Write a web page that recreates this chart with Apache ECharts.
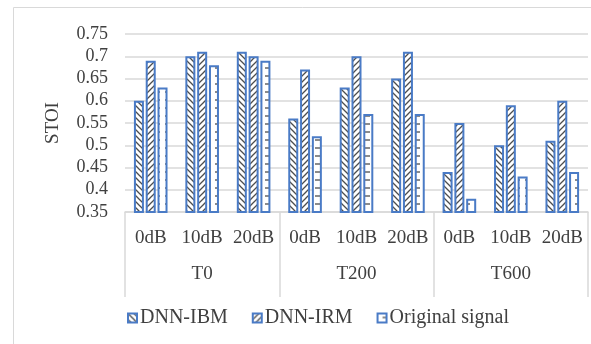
<!DOCTYPE html>
<html>
<head>
<meta charset="utf-8">
<script src="https://cdn.jsdelivr.net/npm/echarts@6/dist/echarts.min.js"></script>
<style>
  html, body { margin: 0; padding: 0; background: #fff; }
  #chart { width: 591px; height: 344px; }
</style>
</head>
<body>
<div id="chart"></div>
<script>
// data
const snrLabels = ['0dB', '10dB', '20dB', '0dB', '10dB', '20dB', '0dB', '10dB', '20dB'];
const groupLabels = ['T0', 'T200', 'T600'];
const dnnIbm = [0.60, 0.70, 0.71, 0.56, 0.63, 0.65, 0.44, 0.50, 0.51];
const dnnIrm = [0.69, 0.71, 0.70, 0.67, 0.70, 0.71, 0.55, 0.59, 0.60];
const original = [0.63, 0.68, 0.69, 0.52, 0.57, 0.57, 0.38, 0.43, 0.44];

const FONT = '"Liberation Serif", "DejaVu Serif", serif';
const BLUE = '#4a7bc6';
const INK = '#4d4d4d';

// excel-ish fill patterns
function pattern(kind) {
  const c = document.createElement('canvas');
  const w = kind === 'h' ? 10 : 6, h = kind === 'h' ? 8 : 6;
  c.width = w; c.height = h;
  const g = c.getContext('2d');
  g.fillStyle = '#fff'; g.fillRect(0, 0, w, h);
  g.strokeStyle = INK; g.lineWidth = 1.3;
  g.beginPath();
  if (kind === 'down') {
    g.moveTo(-1, -1); g.lineTo(w + 1, h + 1);
    g.moveTo(-1, h - 1); g.lineTo(1, h + 1);
    g.moveTo(w - 1, -1); g.lineTo(w + 1, 1);
  } else if (kind === 'up') {
    g.moveTo(-1, h + 1); g.lineTo(w + 1, -1);
    g.moveTo(-1, 1); g.lineTo(1, -1);
    g.moveTo(w - 1, h + 1); g.lineTo(w + 1, h - 1);
  } else {
    g.moveTo(5, 4); g.lineTo(10, 4);
  }
  g.stroke();
  return { image: c, repeat: 'repeat' };
}

function barSeries(name, data, kind) {
  return {
    name, type: 'bar', data,
    barWidth: 10, barGap: '18%',
    itemStyle: { color: pattern(kind), borderColor: BLUE, borderWidth: 2 }
  };
}

const chart = echarts.init(document.getElementById('chart'));
chart.setOption({
  animation: false,
  textStyle: { fontFamily: FONT },
  graphic: [{
    type: 'rect', left: 11, top: 5,
    shape: { width: 620, height: 380 },
    style: { fill: 'none', stroke: '#d9d9d9', lineWidth: 1 }, silent: true, z: -1
  }],
  grid: { left: 125, right: 3, top: 34, bottom: 132 },
  legend: {
    bottom: 11, left: 122,
    icon: 'rect', itemWidth: 9, itemHeight: 9, itemGap: 24,
    textStyle: { fontFamily: FONT, fontSize: 20, color: '#404040', padding: [0, 0, 0, -2] },
    data: ['DNN-IBM', 'DNN-IRM', 'Original signal']
  },
  xAxis: [{
    type: 'category', data: snrLabels,
    axisLine: { lineStyle: { color: '#d9d9d9', width: 1.5 } },
    axisTick: { show: false },
    axisLabel: { interval: 0, fontFamily: FONT, fontSize: 19, color: '#404040', margin: 17 }
  }, {
    type: 'category', data: groupLabels, position: 'bottom',
    axisLine: { show: false },
    axisTick: { show: true, length: 85, lineStyle: { color: '#d9d9d9', width: 1.5 } },
    axisLabel: { interval: 0, fontFamily: FONT, fontSize: 19, color: '#404040', margin: 53 }
  }],
  yAxis: {
    type: 'value', min: 0.35, max: 0.75, interval: 0.05,
    name: 'STOI', nameLocation: 'middle', nameRotate: 90, nameGap: 62,
    nameTextStyle: { fontFamily: FONT, fontSize: 19, color: '#404040' },
    axisLine: { show: false }, axisTick: { show: false },
    axisLabel: {
      fontFamily: FONT, fontSize: 18, color: '#404040', margin: 17,
      formatter: v => String(+v.toFixed(2))
    },
    splitLine: { lineStyle: { color: '#d9d9d9', width: 1.5 } }
  },
  series: [
    barSeries('DNN-IBM', dnnIbm, 'down'),
    barSeries('DNN-IRM', dnnIrm, 'up'),
    barSeries('Original signal', original, 'h')
  ]
});
</script>
</body>
</html>
